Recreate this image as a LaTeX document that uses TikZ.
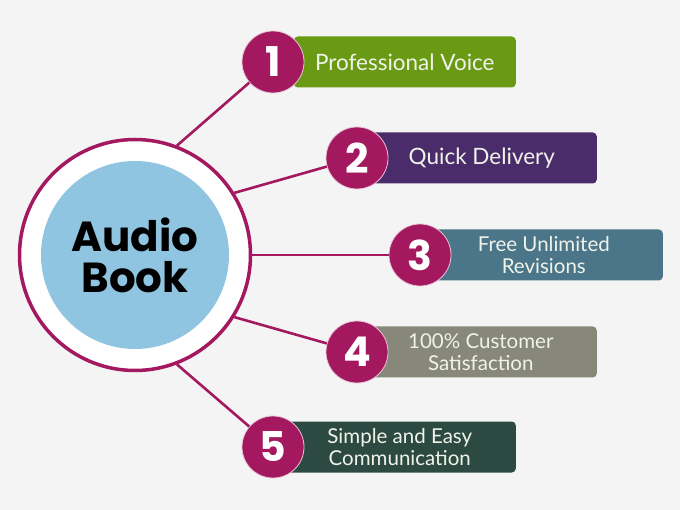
\documentclass[tikz,border=0pt]{standalone}
\usepackage{fontspec}
\setmainfont{Lato}
\newfontfamily\headfont{Poppins}
\usetikzlibrary{positioning}

\definecolor{bgGray}{HTML}{F4F4F4}
\definecolor{plum}{HTML}{A3185E}
\definecolor{hubBlue}{HTML}{8FC5E0}
\definecolor{paleText}{HTML}{F0F3EA}
\definecolor{barGreen}{HTML}{6A9A14}
\definecolor{barPurple}{HTML}{4B2C6B}
\definecolor{barTeal}{HTML}{4B7589}
\definecolor{barOlive}{HTML}{88887A}
\definecolor{barPine}{HTML}{2D4A42}

\tikzset{
  ring/.style={circle, draw=plum, line width=3.5pt, fill=white, minimum size=231pt, inner sep=0pt},
  core/.style={circle, fill=hubBlue, minimum size=188pt, inner sep=0pt, align=center,
    font=\headfont\bfseries\fontsize{42}{41}\selectfont},
  numdot/.style={circle, fill=plum, draw=white!75!plum, line width=0.8pt, minimum size=62pt, inner sep=0pt,
    text=white, font=\headfont\bfseries\fontsize{41}{41}\selectfont},
  bar/.style={rounded corners=4pt, minimum height=51pt, inner sep=0pt, text=paleText, align=center},
  link/.style={draw=plum, line width=2.6pt}
}

\begin{document}
\begin{tikzpicture}[x=1pt,y=-1pt]
  \fill[bgGray] (0,0) rectangle (680,510);
  \useasboundingbox (0,0) rectangle (680,510);

  % hub
  \node[ring] (hub) at (135,255) {};
  \node[core] (core) at (135,255) {Audio\\Book};

  % items: number / x / y / angle / bar left / bar right / colour / size / text
  \foreach \n/\cx/\cy/\ang/\lft/\rgt/\col/\fs/\txt in {
      1/273/62/69/294/516/barGreen/22.5/{Professional Voice},
      2/357/158/32/367/597/barPurple/22.5/{Quick Delivery},
      3/420/255/0/425/663/barTeal/20.5/{Free Unlimited\\Revisions},
      4/357/352/-32/365/597/barOlive/20.5/{100\% Customer\\Satisfaction},
      5/273/447/-69/284/516/barPine/20.5/{Simple and Easy\\Communication}} {
    \pgfmathsetmacro{\barlen}{\rgt-\lft}
    \node[bar, fill=\col, anchor=east, minimum width=\barlen pt,
          font=\fontsize{\fs}{22}\selectfont] (bar\n) at (\rgt,\cy) {\txt};
    \node[numdot] (n\n) at (\cx,\cy) {\n};
    \draw[link] (hub.\ang) -- (n\n);
  }
\end{tikzpicture}
\end{document}
